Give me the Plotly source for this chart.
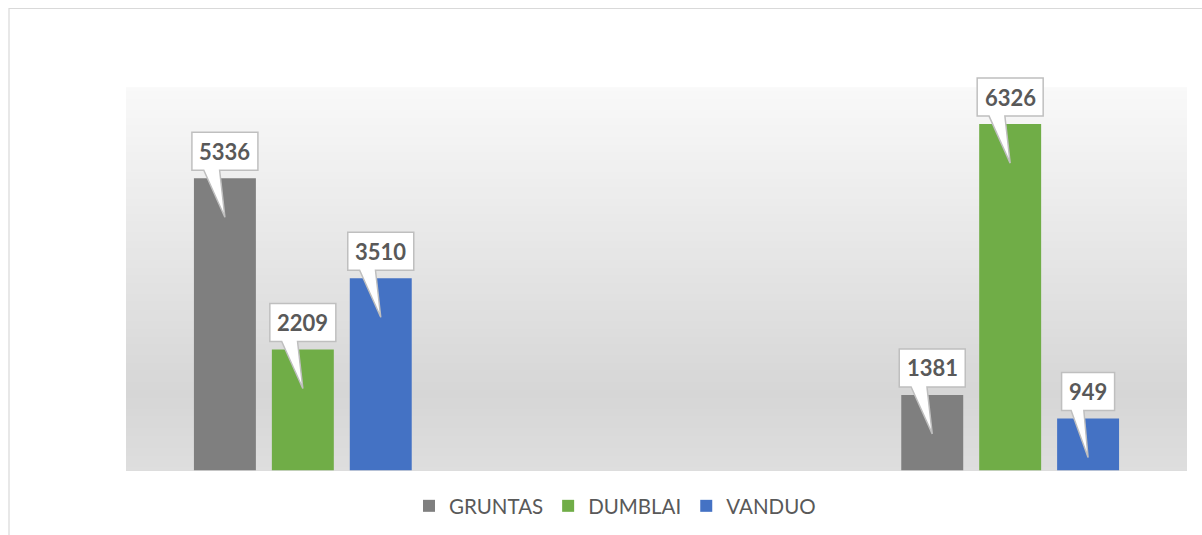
import plotly.graph_objects as go

# ---- data ----
categories = ["I", "II", "III"]
series_names = ["GRUNTAS", "DUMBLAI", "VANDUO"]
gruntas = [5336, None, 1381]
dumblai = [2209, None, 6326]
vanduo = [3510, None, 949]
series_values = [gruntas, dumblai, vanduo]
colors = ["#7f7f7f", "#70ad47", "#4472c4"]

W, H = 1202, 535
BARGAP = 0.339
BARGROUPGAP = 0.205
Y_MAX = 7000  # top of the visible (gradient) plot area

fig = go.Figure()
for name, vals, col in zip(series_names, series_values, colors):
    fig.add_trace(go.Bar(
        name=name, x=categories, y=vals,
        marker=dict(color=col, line=dict(width=0)),
        hoverinfo="x+y+name",
    ))

# ---- callout labels ----
shapes = []
annotations = []
slot = (1 - BARGAP) / len(series_values)
for i, vals in enumerate(series_values):
    off = (i - (len(series_values) - 1) / 2) * slot
    for j, v in enumerate(vals):
        if v is None:
            continue
        txt = str(v)
        w = 13 * len(txt) + 14
        half = w / 2
        bottom, top, tip = 8, 46, -39
        tl, tr = -0.32 * w, -0.08 * w
        path = (f"M {-half},{bottom} L {tl},{bottom} L 0,{tip} L {tr},{bottom} "
                f"L {half},{bottom} L {half},{top} L {-half},{top} Z")
        shapes.append(dict(
            type="path", xref="x", yref="y",
            xsizemode="pixel", ysizemode="pixel",
            xanchor=j + off, yanchor=v, path=path,
            fillcolor="white", line=dict(color="#bfbfbf", width=1.5),
            layer="above",
        ))
        annotations.append(dict(
            x=j + off, y=v, xref="x", yref="y", text=f"<b>{txt}</b>",
            showarrow=False, yshift=27, yanchor="middle", xanchor="center",
            font=dict(family="Lato", size=22, color="#595959"),
        ))

# ---- gradient plot background (bands stacked from the top down, no seams) ----
def lerp(c1, c2, t):
    return tuple(round(a + (b - a) * t) for a, b in zip(c1, c2))

stops = [(0.0, (249, 249, 249)), (0.8, (214, 214, 214)), (1.0, (222, 222, 222))]
N = 100
bg = []
for k in range(N):
    t = (k + 0.5) / N  # fraction from top
    for (t0, c0), (t1, c1) in zip(stops[:-1], stops[1:]):
        if t0 <= t <= t1:
            c = lerp(c0, c1, (t - t0) / (t1 - t0))
            break
    bg.append(dict(
        type="rect", xref="x domain", yref="y",
        x0=0, x1=1, y0=0, y1=Y_MAX * (1 - k / N),
        fillcolor=f"rgb{c}", line=dict(width=0), layer="below",
    ))

# outer chart frame (extends beyond visible area)
frame = dict(
    type="rect", xref="paper", yref="paper",
    x0=9 / W, x1=1.02, y0=-0.05, y1=1 - 8.5 / H,
    line=dict(color="#d9d9d9", width=1.2), fillcolor="rgba(0,0,0,0)", layer="below",
)

plot_left, plot_right = 126, 1187
plot_bottom = 470.5
px_per_unit = 292.2 / 5336
axis_top_px = 40  # extend axis area upward so callouts are not clipped
y_axis_max = (plot_bottom - axis_top_px) / px_per_unit

fig.update_layout(
    width=W, height=H,
    margin=dict(l=0, r=0, t=0, b=0),
    paper_bgcolor="white", plot_bgcolor="rgba(0,0,0,0)",
    font=dict(family="Lato", color="#595959"),
    barmode="group", bargap=BARGAP, bargroupgap=BARGROUPGAP,
    xaxis=dict(
        domain=[plot_left / W, plot_right / W],
        type="category", categoryarray=categories, range=[-0.5, 2.5],
        showticklabels=False, showgrid=False, zeroline=False, showline=False, ticks="",
    ),
    yaxis=dict(
        domain=[(H - plot_bottom) / H, (H - axis_top_px) / H],
        range=[0, y_axis_max], showticklabels=False, showgrid=False,
        zeroline=False, showline=False, ticks="",
    ),
    legend=dict(
        orientation="h", x=615 / W, xanchor="center", y=1 - 506 / H, yanchor="middle",
        font=dict(family="Lato", size=20.5, color="#595959"),
        bgcolor="rgba(0,0,0,0)", traceorder="normal",
    ),
    shapes=[frame] + bg + shapes,
    annotations=annotations,
    showlegend=True,
)

fig.write_html("out.html", config={"displayModeBar": False},
               post_script="document.body.style.margin='0';")
